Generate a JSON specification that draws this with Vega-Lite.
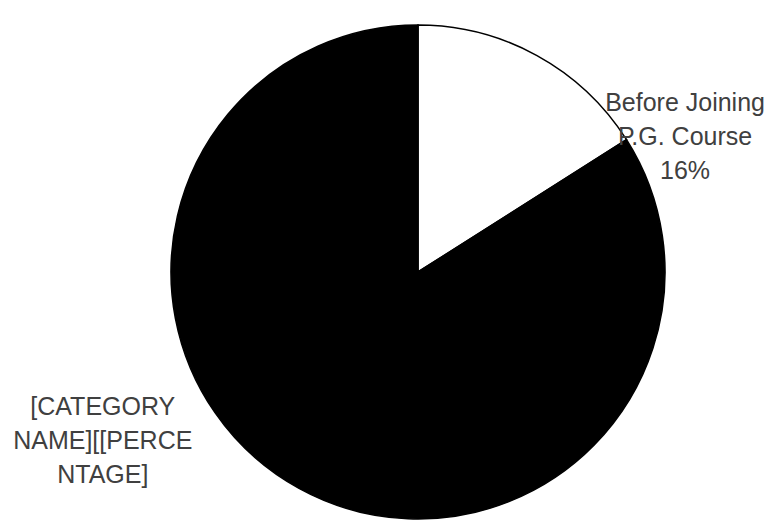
{
  "$schema": "https://vega.github.io/schema/vega-lite/v6.json",
  "width": 712,
  "height": 506,
  "autosize": "none",
  "padding": {"left": 62, "top": 19, "right": 0, "bottom": 0},
  "background": "white",
  "config": {"view": {"stroke": null}},
  "data": {
    "values": [
      {"idx": 1, "category": "Before Joining P.G. Course", "value": 16, "label": "Before Joining\nP.G. Course\n16%"},
      {"idx": 2, "category": "After Joining P.G. Course", "value": 84, "label": "[CATEGORY\nNAME][[PERCE\nNTAGE]"}
    ]
  },
  "encoding": {
    "theta": {"field": "value", "type": "quantitative", "stack": true},
    "order": {"field": "idx", "type": "quantitative"}
  },
  "layer": [
    {
      "mark": {"type": "arc", "radius": 247, "stroke": "black", "strokeWidth": 1.5},
      "encoding": {
        "color": {
          "field": "category",
          "type": "nominal",
          "scale": {"domain": ["Before Joining P.G. Course", "After Joining P.G. Course"], "range": ["white", "black"]},
          "legend": null
        }
      }
    },
    {
      "mark": {"type": "text", "radius": 316, "thetaOffset": 0.504, "font": "Liberation Sans", "fontSize": 25, "lineHeight": 34, "lineBreak": "\n", "align": "center", "baseline": "middle", "color": "#404040"},
      "encoding": {
        "text": {"condition": {"test": "datum.idx == 1", "field": "label"}, "value": ""}
      }
    },
    {
      "mark": {"type": "text", "radius": 343, "thetaOffset": 0.663, "font": "Liberation Sans", "fontSize": 25, "lineHeight": 34, "lineBreak": "\n", "align": "center", "baseline": "middle", "color": "#404040"},
      "encoding": {
        "text": {"condition": {"test": "datum.idx == 2", "field": "label"}, "value": ""}
      }
    }
  ]
}
